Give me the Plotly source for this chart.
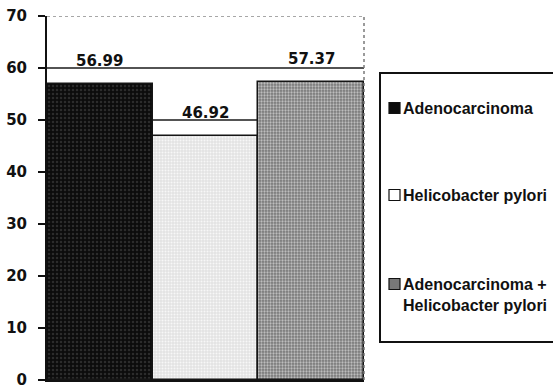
import plotly.graph_objects as go

# Mean values per group
groups = ["Adenocarcinoma", "Helicobacter pylori", "Adenocarcinoma +<br>Helicobacter pylori"]
values = [56.99, 46.92, 57.37]
value_labels = ["56.99", "46.92", "57.37"]
y_ticks = [0, 10, 20, 30, 40, 50, 60, 70]

FONT = "DejaVu Sans, sans-serif"
LEGEND_FONT = "Liberation Sans, Arial, sans-serif"

# Fill styling per group (textured grays)
fills = [
    dict(bg="#0c0c0c", fg="#2c2c2c", shape=".", size=4, solidity=0.3),
    dict(bg="#e2e2e2", fg="#f7f7f7", shape=".", size=3, solidity=0.4),
    dict(bg="#787878", fg="#bdbdbd", shape=".", size=3, solidity=0.45),
]

fig = go.Figure()
for i, (g, v) in enumerate(zip(groups, values)):
    f = fills[i]
    fig.add_trace(go.Bar(
        x=[i], y=[v], width=1.0, name=g, showlegend=False,
        marker=dict(
            color=f["bg"],
            line=dict(color="#151515", width=1.5),
            pattern=dict(shape=f["shape"], size=f["size"], solidity=f["solidity"],
                         fgcolor=f["fg"], bgcolor=f["bg"], fillmode="replace"),
        ),
        hoverinfo="skip",
    ))

# Value labels above each bar
for i, (v, t) in enumerate(zip(values, value_labels)):
    fig.add_annotation(x=i, y=v, text=t, showarrow=False, yanchor="bottom",
                       yshift=12, font=dict(family=FONT, size=15, color="#111", weight="bold"))

shapes = []
# Horizontal grid lines behind the bars
for t in y_ticks[1:-1]:
    shapes.append(dict(type="line", xref="paper", yref="y", x0=0, x1=1, y0=t, y1=t,
                       line=dict(color="#1a1a1a", width=1.5), layer="below"))
# Dotted frame on top and right
shapes.append(dict(type="line", xref="paper", yref="y", x0=0, x1=1, y0=70, y1=70,
                   line=dict(color="#8a8a8a", width=1.5, dash="dot")))
shapes.append(dict(type="line", xref="paper", yref="y", x0=1, x1=1, y0=0, y1=70,
                   line=dict(color="#7a7a7a", width=1.5, dash="dot")))

# Legend box (pixel positions mapped into paper units)
PX_L, PX_R, PX_T, PX_B = 47, 364, 16, 380
def px_x(px):
    return (px - PX_L) / (PX_R - PX_L)
def px_y(py):
    return (PX_B - py) / (PX_B - PX_T)

shapes.append(dict(type="rect", xref="paper", yref="paper",
                   x0=px_x(380), x1=px_x(570), y0=px_y(342), y1=px_y(73),
                   line=dict(color="#111", width=2), fillcolor="white"))

legend_rows = [108, 195, 284]
for i, g in enumerate(groups):
    yc = legend_rows[i]
    f = fills[i]
    shapes.append(dict(type="rect", xref="paper", yref="paper",
                       x0=px_x(389), x1=px_x(400), y0=px_y(yc + 5.5), y1=px_y(yc - 5.5),
                       line=dict(color="#111", width=1.2), fillcolor=f["bg"] if i != 1 else "white"))
    fig.add_annotation(xref="paper", yref="paper", x=px_x(401), y=px_y(yc - 10),
                       text=g, showarrow=False, xanchor="left", yanchor="top", align="left",
                       font=dict(family=LEGEND_FONT, size=16, color="#111", weight="bold"))

fig.update_layout(
    width=553, height=389,
    margin=dict(l=PX_L, r=553 - PX_R, t=PX_T, b=389 - PX_B),
    paper_bgcolor="white", plot_bgcolor="white",
    barmode="overlay", bargap=0,
    shapes=shapes,
    showlegend=False,
    font=dict(family=FONT, color="#111"),
)
fig.update_xaxes(range=[-0.5, 2.5], showticklabels=False, showgrid=False, zeroline=False,
                 showline=True, linecolor="#111", linewidth=2, ticks="", automargin=False)
fig.update_yaxes(range=[0, 70], tickvals=y_ticks, showgrid=False, zeroline=False,
                 showline=True, linecolor="#111", linewidth=2,
                 ticks="outside", ticklen=7, tickwidth=1.5, tickcolor="#111",
                 ticklabelstandoff=8, automargin=False, ticklabeloverflow="allow",
                 tickfont=dict(family=FONT, size=15, color="#111", weight="bold"))

fig.write_html("out.html")
